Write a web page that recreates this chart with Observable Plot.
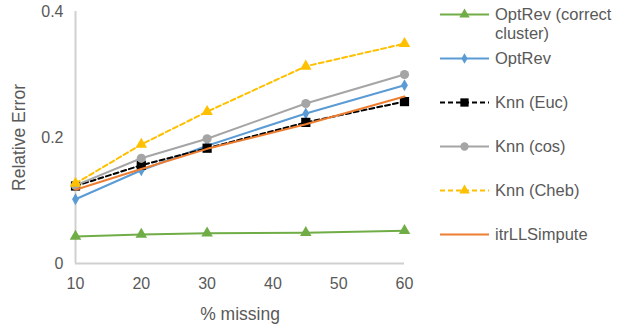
<!DOCTYPE html>
<html><head><meta charset="utf-8">
<script src="https://cdn.jsdelivr.net/npm/d3@7"></script>
<script src="https://cdn.jsdelivr.net/npm/@observablehq/plot@0.6"></script>
<style>
body{margin:0;background:#fff;font-family:"Liberation Sans",Arial,sans-serif;}
#wrap{position:relative;width:637px;height:325px;}
#legend{position:absolute;left:0;top:0;width:637px;height:325px;}
.item{position:absolute;left:440px;width:197px;display:flex;align-items:flex-start;font-size:16.5px;color:#595959;line-height:19px;white-space:nowrap;}
.item svg{flex:none;margin-right:5px;}
</style></head>
<body><div id="wrap"><div id="chart"></div><div id="legend"></div></div>
<script>
const missing = [10, 20, 30, 45, 60];
const seriesNames = ["OptRev (correct cluster)", "OptRev", "Knn (Euc)", "Knn (cos)", "Knn (Cheb)", "itrLLSimpute"];
const optRevCorrect = [0.043, 0.046, 0.048, 0.049, 0.052];
const optRev = [0.102, 0.148, 0.187, 0.238, 0.283];
const knnEuc = [0.123, 0.156, 0.183, 0.224, 0.257];
const knnCos = [0.124, 0.167, 0.198, 0.254, 0.300];
const knnCheb = [0.127, 0.189, 0.241, 0.313, 0.349];
const itrLLS = [0.117, 0.150, 0.182, 0.221, 0.265];
const xTicks = [10, 20, 30, 40, 50, 60];
const yTicks = [0, 0.2, 0.4];

const styles = [
  {color:"#70ad47", dash:null, symbol:"triangle", r:4.3},
  {color:"#5b9bd5", dash:null, symbol:"diamond", r:3.6},
  {color:"#000000", dash:"5,3", symbol:"square", r:5.2},
  {color:"#a5a5a5", dash:null, symbol:"circle", r:4.6},
  {color:"#ffc000", dash:"5,3", symbol:"triangle", r:4.3},
  {color:"#ed7d31", dash:null, symbol:null, r:0}
];
const allValues = [optRevCorrect, optRev, knnEuc, knnCos, knnCheb, itrLLS];
const data = [];
allValues.forEach((vals, si) => vals.forEach((v, i) => data.push({series: seriesNames[si], si, x: missing[i], y: v})));

const marks = [
  Plot.ruleY([0], {stroke:"#d0d0d0", strokeWidth:2}),
  Plot.ruleX([10], {stroke:"#d0d0d0", strokeWidth:2}),
  Plot.axisX({ticks: xTicks, tickSize:0, tickPadding:14, fontSize:16, color:"#595959", label:"% missing", labelAnchor:"center", labelArrow:"none", labelOffset:56}),
  Plot.axisY({ticks: yTicks, tickSize:0, tickPadding:12, fontSize:16, color:"#595959", tickFormat: d => d === 0 ? "0" : String(d), label:"Relative Error", labelAnchor:"center", labelArrow:"none", labelOffset:63})
];
styles.forEach((s, si) => {
  const d = data.filter(p => p.si === si);
  marks.push(Plot.line(d, {x:"x", y:"y", stroke:s.color, strokeWidth:2, strokeDasharray:s.dash ?? undefined}));
  if (s.symbol) marks.push(Plot.dot(d, {x:"x", y:"y", fill:s.color, stroke:"none", symbol:s.symbol, r:s.r}));
});

const chart = Plot.plot({
  width: 430, height: 325,
  marginLeft: 75, marginRight: 26, marginTop: 11, marginBottom: 62,
  x: {domain:[10,60]},
  y: {domain:[0,0.4]},
  style: {fontFamily:"'Liberation Sans', Arial, sans-serif", fontSize:"16px", color:"#595959", background:"#fff"},
  marks
});
chart.querySelectorAll("[aria-label='x-axis label'], [aria-label='y-axis label']").forEach(g => {
  g.setAttribute("font-size", "17.5");
  g.querySelectorAll("text").forEach(t => t.setAttribute("font-size", "17.5"));
});
document.getElementById("chart").appendChild(chart);

const legend = document.getElementById("legend");
const labelsHtml = ["OptRev (correct<br>cluster)", "OptRev", "Knn (Euc)", "Knn (cos)", "Knn (Cheb)", "itrLLSimpute"];
styles.forEach((s, i) => {
  const div = document.createElement("div");
  div.className = "item";
  div.style.top = (14 + 44*i - 9.5) + "px";
  const ns = "http://www.w3.org/2000/svg";
  const svg = document.createElementNS(ns, "svg");
  svg.setAttribute("width", 50); svg.setAttribute("height", 19);
  const ln = document.createElementNS(ns, "line");
  ln.setAttribute("x1", 0); ln.setAttribute("x2", 49); ln.setAttribute("y1", 9.5); ln.setAttribute("y2", 9.5);
  ln.setAttribute("stroke", s.color); ln.setAttribute("stroke-width", 2);
  if (s.dash) ln.setAttribute("stroke-dasharray", s.dash);
  svg.appendChild(ln);
  if (s.symbol) {
    const sym = {triangle:d3.symbolTriangle, diamond:d3.symbolDiamond, square:d3.symbolSquare, circle:d3.symbolCircle}[s.symbol];
    const p = document.createElementNS(ns, "path");
    const r = s.r * 0.9;
    p.setAttribute("d", d3.symbol(sym, Math.PI * r * r)());
    p.setAttribute("transform", "translate(24.5,9.5)");
    p.setAttribute("fill", s.color);
    svg.appendChild(p);
  }
  div.appendChild(svg);
  const t = document.createElement("span");
  t.innerHTML = labelsHtml[i];
  div.appendChild(t);
  legend.appendChild(div);
});
</script></body></html>
